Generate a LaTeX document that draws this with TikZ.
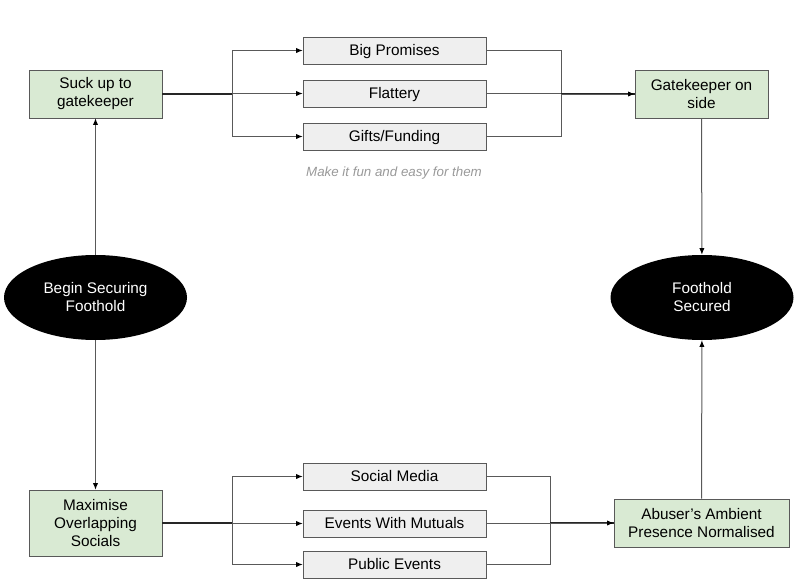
\documentclass[tikz,border=0pt]{standalone}
\usepackage{fontspec}
\setmainfont{Liberation Sans}
\definecolor{stepgreen}{HTML}{D9EAD3}
\definecolor{optgray}{HTML}{EFEFEF}
\definecolor{edgegray}{HTML}{595959}
\definecolor{notegray}{HTML}{999999}
\usetikzlibrary{arrows.meta,positioning,shapes.geometric}
\tikzset{stage/.style={draw=edgegray,fill=stepgreen,align=center,minimum width=99.75pt,minimum height=36pt,inner sep=2pt},opt/.style={draw=edgegray,fill=optgray,align=center,minimum width=137.25pt,minimum height=20.25pt,inner sep=2pt,text depth=1pt},arr/.style={-{Latex[length=5pt,width=4pt,color=black]},draw=edgegray,line width=0.75pt}}

\begin{document}
\begin{tikzpicture}[x=0.75pt,y=-0.75pt,font=\fontsize{11.5}{13.5}\selectfont,goal/.style={ellipse,fill=black,text=white,align=center,minimum width=137.25pt,minimum height=63.75pt,inner sep=0pt},link/.style={draw=edgegray,line width=0.75pt},trunk/.style={draw=black!85,line width=1.4pt}]
\useasboundingbox (0,0) rectangle (800,586);
\node[goal] (start) at (95.5,297.5) {Begin Securing\\Foothold};
\node[goal] (done) at (702,297.5) {Foothold\\Secured};
\node[stage] (suck) at (95.5,94) {Suck up to\\gatekeeper};
\node[stage] (gate) at (701.5,94) {Gatekeeper on\\side};
\node[stage,minimum height=49.5pt] (max) at (95.5,523) {Maximise\\Overlapping\\Socials};
\node[stage,minimum width=131.25pt] (norm) at (701.5,523) {Abuser’s Ambient\\Presence Normalised};
\node[opt] (prom) at (394.5,50.5) {Big Promises};
\node[opt] (flat) at (394.5,93.5) {Flattery};
\node[opt] (gift) at (394.5,136.5) {Gifts/Funding};
\node[font=\fontsize{10}{12}\selectfont\itshape,text=notegray] (hint) at (394,173.5) {Make it fun and easy for them};
\node[opt] (soc) at (394.5,476.5) {Social Media};
\node[opt] (mut) at (394.5,523.5) {Events With Mutuals};
\node[opt] (pub) at (394.5,564.5) {Public Events};
\coordinate (tl) at (232,94);\coordinate (tr) at (561,94);
\coordinate (bl) at (232,523);\coordinate (br) at (550,523);
% top row
\foreach \o in {prom,flat,gift}{\draw[arr] (suck.east)--(tl)|-(\o.west);\draw[link] (\o.east)-|(tr);}
\draw[trunk] (suck.east)--(tl);\draw[trunk] (tr)--(gate.west);\draw[arr] (tr)--(gate.west);
% bottom row
\foreach \o in {soc,mut,pub}{\draw[arr] (max.east)--(bl)|-(\o.west);\draw[link] (\o.east)-|(br);}
\draw[trunk] (max.east)--(bl);\draw[trunk] (br)--(norm.west);\draw[arr] (br)--(norm.west);
% verticals
\draw[arr] (start)--(suck);\draw[arr] (start)--(max);
\draw[arr] (gate)--(done);\draw[arr] (norm)--(done);
\end{tikzpicture}
\end{document}
